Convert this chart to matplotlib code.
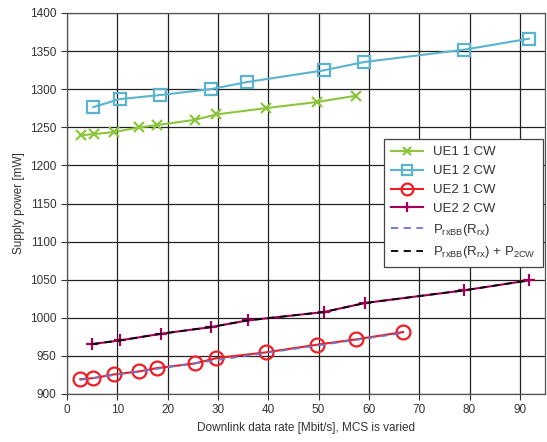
import matplotlib
matplotlib.use("Agg")
import matplotlib.pyplot as plt

plt.rcParams['font.family'] = ['Liberation Sans', 'DejaVu Sans']
plt.rcParams['mathtext.default'] = 'regular'

# Data
ue1_1cw_x = [2.7, 5.3, 9.3, 14.3, 17.9, 25.5, 29.7, 39.6, 49.6, 57.4]
ue1_1cw_y = [1239.3, 1241.1, 1243.7, 1249.8, 1252.9, 1259.9, 1266.9, 1275.2, 1283.1, 1291.4]

ue1_2cw_x = [5.2, 10.5, 18.5, 28.7, 35.8, 51.0, 59.0, 78.9, 91.8]
ue1_2cw_y = [1276.5, 1287.0, 1292.3, 1300.2, 1309.4, 1324.7, 1335.6, 1351.8, 1366.3]

ue2_1cw_x = [2.65, 5.2, 9.3, 14.3, 17.9, 25.4, 29.7, 39.5, 49.6, 57.4, 66.8]
ue2_1cw_y = [919.5, 920.8, 925.7, 929.6, 934.0, 940.1, 947.1, 954.6, 964.6, 971.6, 981.3]

ue2_2cw_x = [5.0, 10.5, 18.75, 28.6, 35.9, 51.0, 59.2, 78.9, 91.8]
ue2_2cw_y = [965.5, 970.3, 979.1, 987.8, 996.6, 1007.5, 1019.4, 1036.0, 1049.1]

model1_x = [2.65, 66.8]
model1_y = [918.5, 980.0]
model2_x = ue2_2cw_x
model2_y = ue2_2cw_y

xticks = [0, 10, 20, 30, 40, 50, 60, 70, 80, 90]
yticks = [900, 950, 1000, 1050, 1100, 1150, 1200, 1250, 1300, 1350, 1400]

fig = plt.figure(figsize=(5.47, 4.42), dpi=100)
ax = fig.add_axes([67/547, 48/442, (545-67)/547, (394-13)/442])

ax.plot(ue1_1cw_x, ue1_1cw_y, color='#8cc63e', lw=1.5, marker='x', ms=7, mew=1.6,
        label='UE1 1 CW', zorder=3)
ax.plot(ue1_2cw_x, ue1_2cw_y, color='#5ab4cd', lw=1.5, marker='s', ms=9, mew=1.6,
        mfc='none', label='UE1 2 CW', zorder=3)
ax.plot(ue2_1cw_x, ue2_1cw_y, color='#ee1c25', lw=1.5, marker='o', ms=10, mew=1.6,
        mfc='none', label='UE2 1 CW', zorder=3)
ax.plot(ue2_2cw_x, ue2_2cw_y, color='#a3005b', lw=1.5, marker='+', ms=9, mew=1.6,
        label='UE2 2 CW', zorder=3)
ax.plot(model1_x, model1_y, color='#6a78c8', lw=1.3, ls=(0, (4, 3)),
        label=r'P$_{rxBB}$(R$_{rx}$)', zorder=4)
ax.plot(model2_x, model2_y, color='black', lw=1.3, ls=(0, (4, 3)),
        label=r'P$_{rxBB}$(R$_{rx}$) + P$_{2CW}$', zorder=4)

ax.set_xlim(0, 95)
ax.set_ylim(900, 1400)
ax.set_xticks(xticks)
ax.set_yticks(yticks)
ax.grid(True, color='#222222', lw=0.9)
ax.set_axisbelow(True)
ax.tick_params(direction='out', length=4, width=0.8, labelsize=8.5, colors='#333333',
               labelcolor='#333333')
for s in ax.spines.values():
    s.set_color('#555555')
    s.set_linewidth(0.9)

ax.set_xlabel('Downlink data rate [Mbit/s], MCS is varied', fontsize=8.5, color='#333333')
ax.set_ylabel('Supply power [mW]', fontsize=8.5, color='#333333')

leg = ax.legend(loc='upper right', bbox_to_anchor=((543-67)/478, (394-139)/381),
                borderaxespad=0, fontsize=9.5, markerscale=0.85,
                fancybox=False, framealpha=1, edgecolor='#444444',
                handlelength=2.4, borderpad=0.55, labelspacing=0.5)
leg.get_frame().set_linewidth(0.9)
for t in leg.get_texts():
    t.set_color('#333333')

fig.savefig('out.png', dpi=100)
